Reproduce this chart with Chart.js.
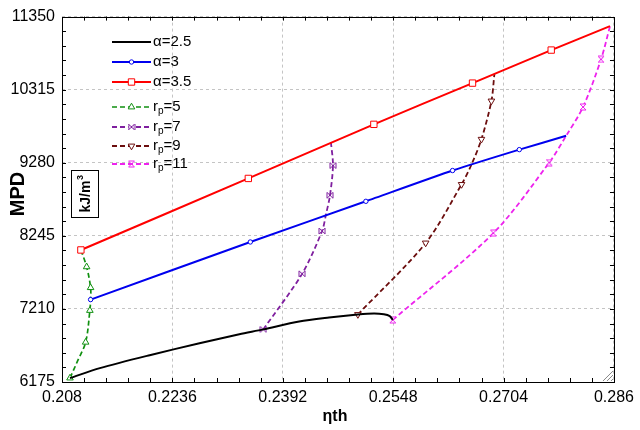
<!DOCTYPE html>
<html>
<head>
<meta charset="utf-8">
<script src="https://cdn.jsdelivr.net/npm/chart.js@4/dist/chart.umd.min.js"></script>
<style>
  body { margin: 0; background: #fff; }
  canvas { display: block; }
</style>
</head>
<body>
<canvas id="mpd-chart" width="640" height="430"></canvas>
<script>
// Axis ticks
const xTicks = [0.208, 0.2236, 0.2392, 0.2548, 0.2704, 0.286];
const xTickLabels = ['0.208', '0.2236', '0.2392', '0.2548', '0.2704', '0.286'];
const yTicks = [6175, 7210, 8245, 9280, 10315, 11350];
const yTickLabels = ['6175', '7210', '8245', '9280', '10315', '11350'];

// Series names (legend order)
const seriesLabels = ['α=2.5', 'α=3', 'α=3.5', 'r_p=5', 'r_p=7', 'r_p=9', 'r_p=11'];

// alpha = 2.5 (solid black, no markers)
const alpha25X = [0.20913, 0.21335, 0.22039, 0.22743, 0.23306, 0.23644, 0.24151, 0.24573, 0.24981, 0.25207, 0.25348, 0.25432, 0.25474];
const alpha25Y = [6231, 6372, 6555, 6723, 6850, 6920, 7033, 7089, 7131, 7145, 7134, 7108, 7054];

// alpha = 3
const alpha3X = [0.21204, 0.23461, 0.25094, 0.26319, 0.27262, 0.27924];
const alpha3Y = [7342, 8158, 8734, 9170, 9466, 9662];
const alpha3Marks = [0, 1, 2, 3, 4];

// alpha = 3.5
const alpha35X = [0.21067, 0.23433, 0.25207, 0.26601, 0.27713, 0.28544];
const alpha35Y = [8045, 9058, 9824, 10408, 10876, 11215];
const alpha35Marks = [0, 1, 2, 3, 4];

// rp = 5
const rp5X = [0.20913, 0.21025, 0.21134, 0.21194, 0.21204, 0.21204, 0.21148, 0.21067];
const rp5Y = [6231, 6484, 6738, 7188, 7342, 7511, 7806, 8045];
const rp5Marks = [0, 2, 3, 5, 6];

// rp = 7
const rp7X = [0.23644, 0.24193, 0.24475, 0.24531, 0.24587, 0.24629, 0.24601];
const rp7Y = [6920, 7708, 8313, 8552, 8819, 9241, 9564];
const rp7Marks = [0, 1, 2, 4, 5];

// rp = 9
const rp9X = [0.24981, 0.25939, 0.26446, 0.26587, 0.26727, 0.26868, 0.26910];
const rp9Y = [7131, 8144, 8973, 9255, 9613, 10155, 10534];
const rp9Marks = [0, 1, 2, 4, 5];

// rp = 11
const rp11X = [0.25474, 0.26896, 0.27685, 0.27924, 0.28163, 0.28417, 0.28544];
const rp11Y = [7054, 8284, 9283, 9662, 10070, 10745, 11215];
const rp11Marks = [0, 1, 2, 4, 5];

// pair up x/y arrays for the library
function toPoints(xs, ys) {
  return xs.map((x, i) => ({ x: x, y: ys[i] }));
}

// radius only on the sampled points
function markRadius(marks, r) {
  return ctx => (marks.includes(ctx.dataIndex) ? r : 0);
}

// small canvas markers for the bowtie / hourglass shapes
function makeMarker(kind, color) {
  const c = document.createElement('canvas');
  c.width = 8; c.height = 8;
  const g = c.getContext('2d');
  g.strokeStyle = color;
  g.fillStyle = '#fff';
  g.lineWidth = 1;
  g.beginPath();
  if (kind === 'bowtie') {
    g.moveTo(1, 1); g.lineTo(7, 7); g.lineTo(7, 1); g.lineTo(1, 7);
  } else {
    g.moveTo(1, 1); g.lineTo(7, 1); g.lineTo(1, 7); g.lineTo(7, 7);
  }
  g.closePath();
  g.fill();
  g.stroke();
  return c;
}

const purple = '#7f1f9f';
const magenta = '#ee22ee';

const datasets = [
  {
    label: seriesLabels[0], data: toPoints(alpha25X, alpha25Y),
    borderColor: '#000', borderWidth: 2, pointRadius: 0, tension: 0.3
  },
  {
    label: seriesLabels[1], data: toPoints(alpha3X, alpha3Y),
    borderColor: '#0000ee', borderWidth: 2, tension: 0.2,
    pointStyle: 'circle', pointRadius: markRadius(alpha3Marks, 2.2),
    pointBackgroundColor: '#fff', pointBorderColor: '#0000ee', pointBorderWidth: 1,
    legendRadius: 2.2
  },
  {
    label: seriesLabels[2], data: toPoints(alpha35X, alpha35Y),
    borderColor: '#ff0000', borderWidth: 2, tension: 0.2,
    pointStyle: 'rect', pointRadius: markRadius(alpha35Marks, 4.5),
    pointBackgroundColor: '#fff', pointBorderColor: '#ff0000', pointBorderWidth: 1,
    legendRadius: 4.5
  },
  {
    label: seriesLabels[3], data: toPoints(rp5X, rp5Y),
    borderColor: '#109010', borderWidth: 1.7, borderDash: [5, 3], tension: 0.35,
    pointStyle: 'triangle', pointRadius: markRadius(rp5Marks, 3.8),
    pointBackgroundColor: '#fff', pointBorderColor: '#109010', pointBorderWidth: 1,
    legendRadius: 3.8
  },
  {
    label: seriesLabels[4], data: toPoints(rp7X, rp7Y),
    borderColor: purple, borderWidth: 1.8, borderDash: [5, 3], tension: 0.3,
    pointStyle: makeMarker('bowtie', purple), pointRadius: markRadius(rp7Marks, 4),
    legendRadius: 4
  },
  {
    label: seriesLabels[5], data: toPoints(rp9X, rp9Y),
    borderColor: '#6b0d0d', borderWidth: 1.8, borderDash: [5, 3], tension: 0.3,
    pointStyle: 'triangle', pointRotation: 180, pointRadius: markRadius(rp9Marks, 3.8),
    pointBackgroundColor: '#fff', pointBorderColor: '#6b0d0d', pointBorderWidth: 1,
    legendRadius: 3.8
  },
  {
    label: seriesLabels[6], data: toPoints(rp11X, rp11Y),
    borderColor: magenta, borderWidth: 1.8, borderDash: [5, 3], tension: 0.3,
    pointStyle: makeMarker('hourglass', magenta), pointRadius: markRadius(rp11Marks, 4),
    legendRadius: 4
  }
];

// frame, inward ticks, axis titles, legend and the little corner grip
const decorPlugin = {
  id: 'decor',
  afterDraw(chart) {
    const { ctx, chartArea: a, scales: { x, y } } = chart;
    ctx.save();

    // frame
    ctx.strokeStyle = '#000';
    ctx.lineWidth = 1;
    ctx.strokeRect(Math.round(a.left) + 0.5, Math.round(a.top) + 0.5,
      Math.round(a.right - a.left), Math.round(a.bottom - a.top));

    // minor + major ticks pointing inwards on all four sides
    ctx.beginPath();
    const xStep = (xTicks[1] - xTicks[0]) / 5;
    for (let i = 1; i < (xTicks.length - 1) * 5; i++) {
      const px = Math.round(x.getPixelForValue(xTicks[0] + i * xStep)) + 0.5;
      ctx.moveTo(px, a.bottom); ctx.lineTo(px, a.bottom - 4);
      ctx.moveTo(px, a.top); ctx.lineTo(px, a.top + 4);
    }
    const yStep = (yTicks[1] - yTicks[0]) / 5;
    for (let i = 1; i < (yTicks.length - 1) * 5; i++) {
      const py = Math.round(y.getPixelForValue(yTicks[0] + i * yStep)) + 0.5;
      ctx.moveTo(a.left, py); ctx.lineTo(a.left + 4, py);
      ctx.moveTo(a.right, py); ctx.lineTo(a.right - 4, py);
    }
    ctx.stroke();

    // resize grip in the corner
    ctx.strokeStyle = '#888';
    ctx.beginPath();
    for (let k = 3; k <= 11; k += 4) {
      ctx.moveTo(a.right - k, a.bottom - 1); ctx.lineTo(a.right - 1, a.bottom - k);
    }
    ctx.stroke();

    // y title
    ctx.fillStyle = '#000';
    ctx.save();
    ctx.translate(18, 194);
    ctx.rotate(-Math.PI / 2);
    ctx.font = 'bold 20px "Liberation Sans", Arial, sans-serif';
    ctx.textAlign = 'center';
    ctx.textBaseline = 'middle';
    ctx.fillText('MPD', 0, 0);
    ctx.restore();

    // unit box
    ctx.strokeStyle = '#000';
    ctx.strokeRect(71.5, 170.5, 27, 47);
    ctx.save();
    ctx.translate(84.5, 194);
    ctx.rotate(-Math.PI / 2);
    ctx.font = 'bold 14px "Liberation Sans", Arial, sans-serif';
    ctx.textBaseline = 'alphabetic';
    const unit = 'kJ/m';
    const uw = ctx.measureText(unit).width;
    ctx.font = 'bold 9px "Liberation Sans", Arial, sans-serif';
    const sw = ctx.measureText('3').width;
    const start = -(uw + sw) / 2;
    ctx.font = 'bold 14px "Liberation Sans", Arial, sans-serif';
    ctx.fillText(unit, start, 5);
    ctx.font = 'bold 9px "Liberation Sans", Arial, sans-serif';
    ctx.fillText('3', start + uw + 0.5, -2);
    ctx.restore();

    // x title
    ctx.font = 'bold 16px "Liberation Sans", Arial, sans-serif';
    ctx.textAlign = 'center';
    ctx.textBaseline = 'alphabetic';
    ctx.fillText('ηth', 335, 421);

    // legend
    const rows = [42, 62, 82, 107, 127, 146, 164];
    chart.data.datasets.forEach((ds, i) => {
      const ly = rows[i];
      ctx.save();
      ctx.strokeStyle = ds.borderColor;
      ctx.lineWidth = ds.borderWidth;
      ctx.setLineDash(ds.borderDash || []);
      ctx.beginPath();
      ctx.moveTo(112, ly); ctx.lineTo(151, ly);
      ctx.stroke();
      ctx.setLineDash([]);
      if (ds.legendRadius) {
        ctx.fillStyle = '#fff';
        ctx.strokeStyle = ds.borderColor;
        ctx.lineWidth = 1;
        Chart.helpers.drawPoint(ctx, {
          pointStyle: ds.pointStyle, rotation: ds.pointRotation || 0,
          radius: ds.legendRadius, borderWidth: 1
        }, 131.5, ly);
      }
      ctx.restore();

      ctx.fillStyle = '#000';
      ctx.textAlign = 'left';
      ctx.textBaseline = 'middle';
      ctx.font = '15px "Liberation Sans", Arial, sans-serif';
      const label = ds.label;
      if (label.includes('_p')) {
        const [head, tail] = label.split('_p');
        ctx.fillText(head, 153, ly);
        let tx = 153 + ctx.measureText(head).width;
        ctx.font = '10px "Liberation Sans", Arial, sans-serif';
        ctx.fillText('p', tx, ly + 4);
        tx += ctx.measureText('p').width;
        ctx.font = '15px "Liberation Sans", Arial, sans-serif';
        ctx.fillText(tail, tx, ly);
      } else {
        ctx.fillText(label, 153, ly);
      }
    });

    ctx.restore();
  }
};

const tickFont = { family: '"Liberation Sans", Arial, sans-serif', size: 16 };

const mpdChart = new Chart(document.getElementById('mpd-chart').getContext('2d'), {
  type: 'line',
  data: { datasets: datasets },
  options: {
    responsive: false,
    animation: false,
    events: [],
    layout: { padding: { top: 14, right: 24, left: 0, bottom: 0 } },
    plugins: {
      legend: { display: false },
      tooltip: { enabled: false }
    },
    scales: {
      x: {
        type: 'linear',
        min: xTicks[0],
        max: xTicks[xTicks.length - 1],
        afterBuildTicks: s => { s.ticks = xTicks.map(v => ({ value: v })); },
        afterFit: s => { s.height = 48; },
        ticks: {
          color: '#000', font: tickFont, padding: 6, maxRotation: 0,
          autoSkip: false,
          callback: (v, i) => xTickLabels[i]
        },
        grid: { color: '#c4c4c4', drawTicks: false, lineWidth: 1 },
        border: { display: false, dash: [3, 3] }
      },
      y: {
        type: 'linear',
        min: yTicks[0],
        max: yTicks[yTicks.length - 1],
        afterBuildTicks: s => { s.ticks = yTicks.map(v => ({ value: v })); },
        afterFit: s => { s.width = 62; },
        ticks: {
          color: '#000', font: tickFont, padding: 7,
          autoSkip: false,
          callback: (v, i) => yTickLabels[i]
        },
        grid: { color: '#c4c4c4', drawTicks: false, lineWidth: 1 },
        border: { display: false, dash: [3, 3] }
      }
    }
  },
  plugins: [decorPlugin]
});
</script>
</body>
</html>
